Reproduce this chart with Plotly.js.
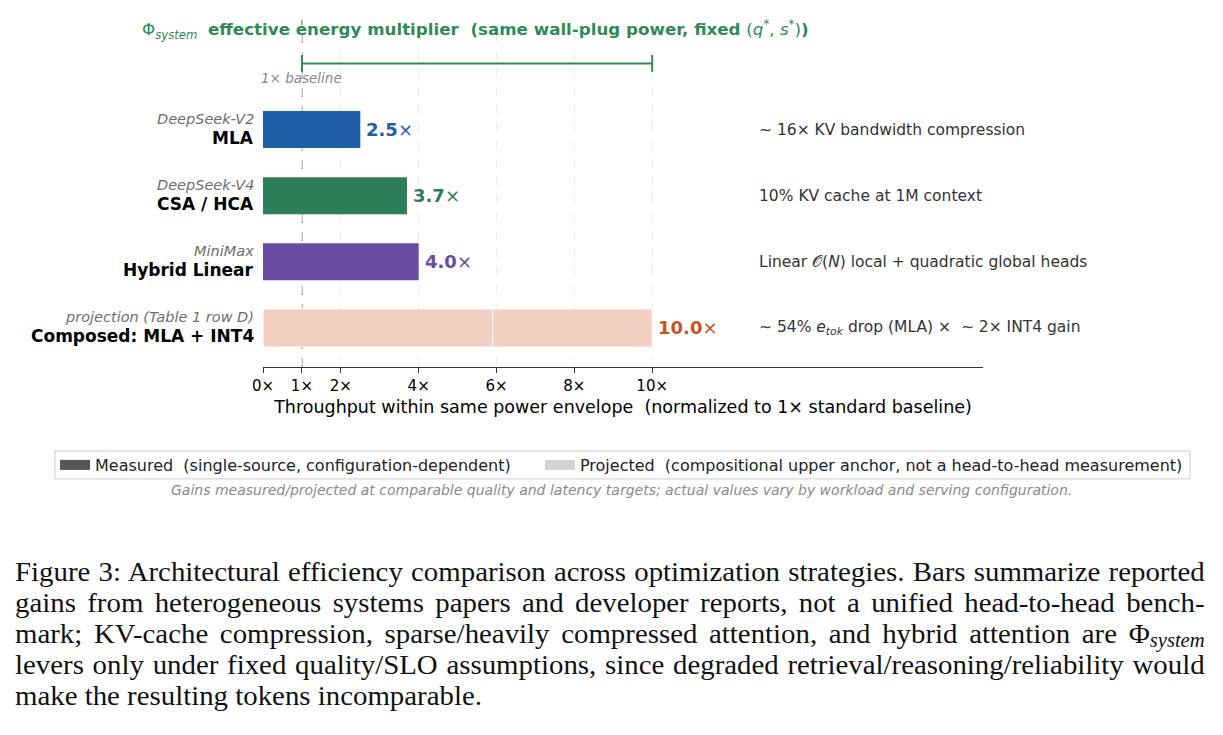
<!DOCTYPE html>
<html>
<head>
<meta charset="utf-8">
<script src="https://cdn.plot.ly/plotly-3.0.1.min.js"></script>
<style>
  html, body { margin: 0; padding: 0; background: #ffffff; }
  #chart { position: absolute; left: 0; top: 0; width: 1223px; height: 735px; }
  #caption { position: absolute; left: 15px; top: 556px; width: 1155px;
             transform: scaleX(1.03); transform-origin: left top;
             font-family: "Liberation Serif", "DejaVu Serif", serif; font-size: 28px; color: #111; }
  #caption .ln { height: 31px; line-height: 31px; white-space: nowrap; word-spacing: -1px;
                 text-align: justify; text-align-last: justify; }
  #caption .last { text-align: left; text-align-last: left; word-spacing: 0; }
  #caption sub { font-style: italic; font-size: 20px; vertical-align: -4px; }
</style>
</head>
<body>
<div id="chart"></div>
<div id="caption"></div>
<script>
// ---------------- data ----------------
const categories = ['MLA', 'CSA / HCA', 'Hybrid Linear', 'Composed: MLA + INT4'];
const sources = ['DeepSeek-V2', 'DeepSeek-V4', 'MiniMax', 'projection (Table 1 row D)'];
const multipliers = [2.5, 3.7, 4.0, 10.0];
const composedSegments = [5.9, 4.1];
const notes = [
  '∼ 16× KV bandwidth compression',
  '10% KV cache at 1M context',
  'Linear 𝒪(<i>N</i>) local + quadratic global heads',
  '∼ 54% <i>e</i><sub><i>tok</i></sub> drop (MLA) ×  ∼ 2× INT4 gain'
];
const tickValues = [0, 1, 2, 4, 6, 8, 10];
const tickLabels = tickValues.map(v => v + '×');
const baseline = 1;
const legendLabels = [
  'Measured\u00a0\u00a0(single-source, configuration-dependent)',
  'Projected\u00a0\u00a0(compositional upper anchor, not a head-to-head measurement)'
];
const captionLines = [
  'Figure 3: Architectural efficiency comparison across optimization strategies. Bars summarize reported',
  'gains from heterogeneous systems papers and developer reports, not a unified head-to-head bench-',
  'mark; KV-cache compression, sparse/heavily compressed attention, and hybrid attention are Φ<sub>system</sub>',
  'levers only under fixed quality/SLO assumptions, since degraded retrieval/reasoning/reliability would',
  'make the resulting tokens incomparable.'
];

// ---------------- styles ----------------
const barColors = ['#1f5fa8', '#2e7d5b', '#6a4ca3'];
const composedFill = '#f2cfc0';
const labelColors = ['#1f5fa8', '#2e7d5b', '#6a4ca3', '#c8531f'];
const green = '#2e8b57';
const FONT = 'DejaVu Sans, sans-serif';

const idx = categories.map((_, i) => i);
const nMeasured = 3;

const traces = [];
traces.push({
  type: 'bar', orientation: 'h',
  x: multipliers.slice(0, nMeasured), y: idx.slice(0, nMeasured),
  width: 0.56,
  marker: { color: barColors, line: { width: 0 } },
  showlegend: false, hoverinfo: 'x'
});
let base = 0;
composedSegments.forEach(seg => {
  traces.push({
    type: 'bar', orientation: 'h',
    x: [seg], y: [idx[3]], base: [base],
    width: 0.575,
    marker: { color: composedFill, line: { color: '#ffffff', width: 1 } },
    showlegend: false, hoverinfo: 'x'
  });
  base += seg;
});
traces.push({
  type: 'scatter', mode: 'lines+markers',
  x: [baseline, multipliers[3]], y: [-1, -1],
  line: { color: green, width: 2 },
  marker: { symbol: 'line-ns', size: 12, line: { color: green, width: 2 } },
  showlegend: false, hoverinfo: 'skip'
});
traces.push({ type: 'scatter', mode: 'lines', x: [null], y: [null], name: legendLabels[0],
  line: { color: '#555555', width: 11 }, showlegend: true, legend: 'legend' });
traces.push({ type: 'scatter', mode: 'lines', x: [null], y: [null], name: legendLabels[1],
  line: { color: '#d3d3d3', width: 11 }, showlegend: true, legend: 'legend2' });

const annotations = [];
categories.forEach((c, i) => {
  annotations.push({ xref: 'paper', x: 0, xanchor: 'right', xshift: -7, yref: 'y', y: i, yshift: 11,
    text: '<i>' + sources[i] + '</i>', showarrow: false,
    font: { family: FONT, size: 14.5, color: '#6e6e6e' } });
  annotations.push({ xref: 'paper', x: 0, xanchor: 'right', xshift: -7, yref: 'y', y: i, yshift: -8,
    text: '<b>' + c + '</b>', showarrow: false,
    font: { family: FONT, size: 17, color: '#000000' } });
  annotations.push({ xref: 'x', x: multipliers[i], xanchor: 'left', xshift: 4, yref: 'y', y: i,
    text: '<b>' + multipliers[i].toFixed(1) + '</b>×', showarrow: false,
    font: { family: FONT, size: 18, color: labelColors[i] } });
  annotations.push({ xref: 'x', x: 12.7, xanchor: 'left', yref: 'y', y: i,
    text: notes[i], showarrow: false,
    font: { family: FONT, size: 15.5, color: '#333333' } });
});
annotations.push({ xref: 'x', x: baseline, xanchor: 'center', yref: 'y', y: -0.78,
  text: '<i>1× baseline</i>', showarrow: false,
  font: { family: FONT, size: 13.5, color: '#888888' } });
annotations.push({ xref: 'paper', x: -0.171, xanchor: 'left', yref: 'paper', y: 1.009, yanchor: 'middle',
  text: 'Φ<sub><i>system</i></sub>\u00a0\u00a0<b>effective energy multiplier\u00a0\u00a0(same wall-plug power, fixed </b>(<i>q</i><sup>*</sup>, <i>s</i><sup>*</sup>)<b>)</b>',
  showarrow: false, font: { family: FONT, size: 16.7, color: green } });
annotations.push({ xref: 'paper', x: 0.4986, xanchor: 'center', yref: 'paper', y: -0.368, yanchor: 'middle',
  text: '<i>Gains measured/projected at comparable quality and latency targets; actual values vary by workload and serving configuration.</i>',
  showarrow: false, font: { family: FONT, size: 14, color: '#8a8a8a' } });

const legendCommon = {
  orientation: 'h', xref: 'container', yref: 'container', xanchor: 'left', yanchor: 'top',
  y: 0.3905, bgcolor: 'rgba(0,0,0,0)', borderwidth: 0,
  font: { family: FONT, size: 16, color: '#222222' }
};

const layout = {
  width: 1223, height: 735,
  margin: { l: 263, r: 240, t: 33, b: 368 },
  paper_bgcolor: '#ffffff', plot_bgcolor: '#ffffff',
  barmode: 'overlay',
  font: { family: FONT, color: '#000000' },
  xaxis: {
    range: [0, 18.5], tickvals: tickValues, ticktext: tickLabels,
    showgrid: true, gridcolor: '#ebebeb', griddash: 'dash', gridwidth: 1,
    zeroline: false, showline: true, linecolor: '#333333', linewidth: 1.4,
    ticks: 'outside', ticklen: 5, tickcolor: '#333333', tickwidth: 1,
    tickfont: { family: FONT, size: 15, color: '#000000' },
    title: { text: 'Throughput within same power envelope\u00a0\u00a0(normalized to 1× standard baseline)',
             font: { family: FONT, size: 17.5, color: '#000000' }, standoff: 6 },
    fixedrange: true
  },
  yaxis: {
    range: [3.59, -1.46], showgrid: false, zeroline: false, showline: false,
    showticklabels: false, ticks: '', fixedrange: true
  },
  shapes: [
    { type: 'line', xref: 'x', x0: baseline, x1: baseline, yref: 'paper', y0: 0, y1: 1.04,
      line: { color: '#9a9a9a', width: 1.5, dash: 'dash' }, layer: 'below' },
    { type: 'rect', xref: 'paper', yref: 'paper', x0: -0.289, x1: 1.2875, y0: -0.335, y1: -0.2515,
      line: { color: '#cccccc', width: 1 }, fillcolor: 'rgba(0,0,0,0)', layer: 'above' }
  ],
  annotations: annotations,
  legend: Object.assign({}, legendCommon, { x: 0.045 }),
  legend2: Object.assign({}, legendCommon, { x: 0.4415 }),
  showlegend: true
};

Plotly.newPlot('chart', traces, layout, { displayModeBar: false, staticPlot: true });

const cap = document.getElementById('caption');
captionLines.forEach((t, i) => {
  const d = document.createElement('div');
  d.className = 'ln' + (i === captionLines.length - 1 ? ' last' : '');
  d.innerHTML = t;
  cap.appendChild(d);
});
</script>
</body>
</html>
